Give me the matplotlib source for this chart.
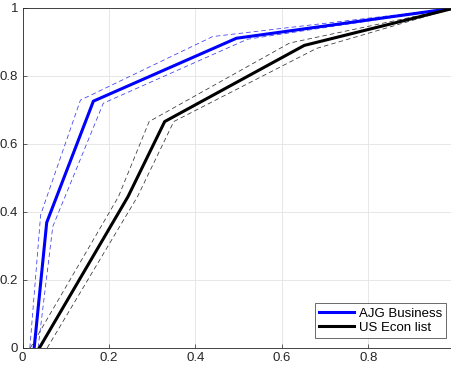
import matplotlib.pyplot as plt

# AJG Business curve with its band
ajg_x = [0.027, 0.056, 0.164, 0.495, 1.0]
ajg_y = [0.0, 0.369, 0.726, 0.911, 1.0]
ajg_hi_x = [0.017, 0.042, 0.134, 0.44, 1.0]
ajg_hi_y = [0.0, 0.392, 0.729, 0.916, 1.0]
ajg_lo_x = [0.036, 0.070, 0.187, 0.52, 1.0]
ajg_lo_y = [0.0, 0.357, 0.720, 0.908, 1.0]

# US Econ list curve with its band
us_x = [0.039, 0.244, 0.329, 0.652, 1.0]
us_y = [0.0, 0.445, 0.666, 0.890, 1.0]
us_hi_x = [0.018, 0.222, 0.293, 0.618, 1.0]
us_hi_y = [0.0, 0.445, 0.666, 0.897, 1.0]
us_lo_x = [0.057, 0.266, 0.350, 0.680, 1.0]
us_lo_y = [0.0, 0.445, 0.666, 0.881, 1.0]

plt.rcParams['font.family'] = ['Liberation Sans', 'DejaVu Sans']

fig = plt.figure(figsize=(4.51, 3.71), dpi=100)
ax = fig.add_axes([22.5 / 451, 23 / 371, 432.2 / 451, 340 / 371])

ax.plot(ajg_hi_x, ajg_hi_y, '--', color='#3a3af0', lw=0.55, dashes=(6, 4))
ax.plot(ajg_lo_x, ajg_lo_y, '--', color='#3a3af0', lw=0.55, dashes=(6, 4))
ax.plot(us_hi_x, us_hi_y, '--', color='#333333', lw=0.55, dashes=(6, 4))
ax.plot(us_lo_x, us_lo_y, '--', color='#333333', lw=0.55, dashes=(6, 4))
ax.plot(ajg_x, ajg_y, color='#0000ff', lw=2.2, label='AJG Business')
ax.plot(us_x, us_y, color='black', lw=2.2, label='US Econ list')

ax.set_xlim(0, 1)
ax.set_ylim(0, 1)
ax.set_xticks([0, 0.2, 0.4, 0.6, 0.8])
ax.set_xticklabels(['0', '0.2', '0.4', '0.6', '0.8'])
ax.set_yticks([0, 0.2, 0.4, 0.6, 0.8, 1])
ax.set_yticklabels(['0', '0.2', '0.4', '0.6', '0.8', '1'])
ax.tick_params(direction='in', length=3, width=0.5, colors='#262626',
               labelsize=9.5, pad=3)
ax.grid(True, color='#e3e3e3', lw=0.6)
ax.set_axisbelow(True)
for s in ax.spines.values():
    s.set_color('#262626')
    s.set_linewidth(0.6)

leg = ax.legend(loc='lower right', bbox_to_anchor=(0.98, 0.03), fontsize=9.5,
                frameon=True, fancybox=False, handlelength=2.6, handletextpad=0.4,
                borderpad=0.3, labelspacing=0.15, borderaxespad=0)
leg.get_frame().set_edgecolor('#262626')
leg.get_frame().set_linewidth(0.6)

fig.savefig('out.png', dpi=100)
